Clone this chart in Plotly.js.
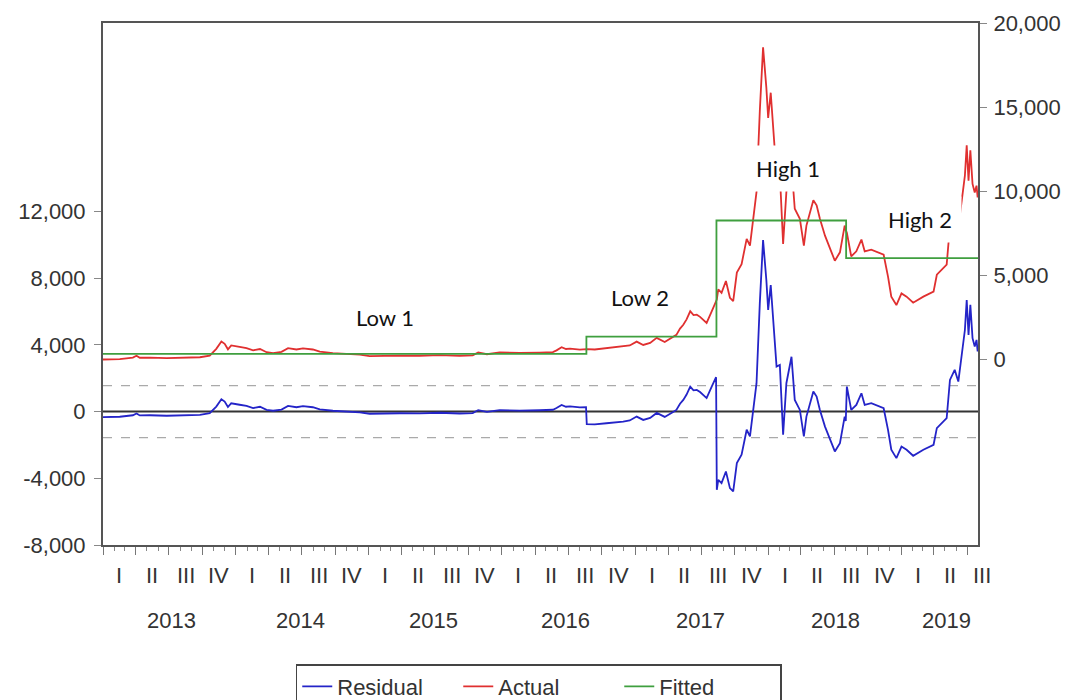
<!DOCTYPE html>
<html>
<head>
<meta charset="utf-8">
<script src="https://cdn.plot.ly/plotly-3.0.1.min.js"></script>
<style>
  html, body { margin: 0; padding: 0; background: #ffffff; }
  #chart { width: 1074px; height: 700px; }
</style>
</head>
<body>
<div id="chart"></div>
<script>
// ---------------- data ----------------
const dates = [
  '2013-01-01','2013-02-16','2013-03-24','2013-04-03','2013-04-12','2013-05-10','2013-06-25','2013-08-19','2013-09-24','2013-10-21',
  '2013-11-08','2013-11-22','2013-12-01','2013-12-10','2013-12-19','2014-01-11','2014-01-30','2014-02-17','2014-03-08','2014-03-26',
  '2014-04-13','2014-05-06','2014-05-24','2014-06-16','2014-07-04','2014-07-31','2014-08-19','2014-09-24','2014-10-31','2014-12-07',
  '2015-01-03','2015-02-09','2015-03-26','2015-05-20','2015-07-14','2015-09-07','2015-10-13','2015-10-28','2015-11-21','2015-12-26',
  '2016-02-19','2016-04-14','2016-05-20','2016-05-30','2016-06-13','2016-06-25','2016-07-06','2016-08-02','2016-08-19','2016-08-21',
  '2016-09-12','2016-10-14','2016-11-06','2016-11-29','2016-12-17','2017-01-05','2017-01-23','2017-02-11','2017-03-01','2017-03-23',
  '2017-04-15','2017-04-24','2017-05-04','2017-05-13','2017-05-22','2017-06-01','2017-06-10','2017-06-19','2017-06-28','2017-07-16',
  '2017-07-30','2017-08-11','2017-08-13','2017-08-17','2017-08-26','2017-09-07','2017-09-18','2017-09-27','2017-10-07','2017-10-20',
  '2017-11-03','2017-11-12','2017-11-21','2017-11-30','2017-12-09','2017-12-18','2017-12-27','2018-01-01','2018-01-08','2018-01-15',
  '2018-01-24','2018-02-02','2018-02-11','2018-02-20','2018-03-06','2018-03-15','2018-03-29','2018-04-09','2018-04-16','2018-05-05',
  '2018-05-14','2018-05-23','2018-06-06','2018-06-24','2018-07-03','2018-07-17','2018-07-30','2018-08-02','2018-08-05','2018-08-17',
  '2018-08-31','2018-09-14','2018-09-23','2018-10-11','2018-11-04','2018-11-14','2018-11-26','2018-12-05','2018-12-19','2019-01-02',
  '2019-01-16','2019-02-03','2019-03-03','2019-03-31','2019-04-09','2019-04-23','2019-05-06','2019-05-15','2019-05-28','2019-06-07',
  '2019-06-16','2019-06-25','2019-06-30','2019-07-05','2019-07-10','2019-07-16','2019-07-22','2019-07-27','2019-07-30'
];

const actual = [
  15,40,130,240,120,130,100,140,150,250,
  650,1090,950,620,850,760,690,560,640,450,
  400,470,690,610,680,610,480,400,360,300,
  220,250,250,240,280,235,260,440,330,440,
  410,430,460,560,750,640,660,600,620,630,
  610,680,720,780,850,1080,880,1000,1300,1060,
  1350,1480,1850,2080,2400,2880,2650,2680,2550,2190,
  2880,3440,3580,4180,3980,4680,3680,3480,5180,5680,
  7180,6780,8370,9970,14760,18550,16160,14360,15860,13760,
  10970,11070,6880,9970,11560,8970,8370,6780,7970,9470,
  9170,8370,7370,6380,5880,6380,7970,7700,7540,6140,
  6440,7140,6440,6540,6340,6240,4940,3750,3250,3940,
  3750,3390,3750,4050,5050,5350,5650,7940,8540,7840,
  9330,10930,12730,10640,12440,10440,9940,10340,9640
];

const residual = [
  -335,-310,-220,-110,-230,-220,-250,-210,-200,-100,
  300,740,600,270,500,410,340,210,290,100,
  50,120,340,260,330,260,130,50,10,-50,
  -130,-100,-100,-110,-70,-115,-90,90,-20,90,
  60,80,110,210,400,290,310,250,270,-750,
  -770,-700,-660,-600,-530,-300,-500,-380,-80,-320,
  -30,100,470,700,1020,1500,1270,1300,1170,810,
  1500,2060,-4690,-4090,-4290,-3590,-4590,-4790,-3090,-2590,
  -1090,-1490,100,1700,6490,10280,7890,6090,7590,5490,
  2700,2800,-1390,1700,3290,700,100,-1490,-300,1200,
  900,100,-900,-1890,-2390,-1890,-300,-570,1500,100,
  400,1100,400,500,300,200,-1100,-2290,-2790,-2100,
  -2290,-2650,-2290,-1990,-990,-690,-390,1900,2500,1800,
  3290,4890,6690,4600,6400,4400,3900,4300,3600
];

// fitted: regime means (step function)
const fittedDates  = ['2013-01-01','2016-08-20','2017-08-12','2018-08-03','2019-07-31'];
const fittedValues = [350, 1380, 8270, 6040, 6040];

// residual standard-error band
const seBand = 1560;

// axis tick labels
const leftTickVals  = [-8000, -4000, 0, 4000, 8000, 12000];
const leftTickText  = ['-8,000', '-4,000', '0', '4,000', '8,000', '12,000'];
const rightTickVals = [0, 5000, 10000, 15000, 20000];
const rightTickText = ['0', '5,000', '10,000', '15,000', '20,000'];
const quarterNames  = ['I', 'II', 'III', 'IV'];
const years         = ['2013', '2014', '2015', '2016', '2017', '2018', '2019'];
const yearLabelDates = ['2013-07-08','2014-06-28','2015-06-28','2016-06-24','2017-06-30','2018-07-04','2019-05-06'];

// build quarter tick positions
const quarterStarts = [], quarterMids = [], quarterText = [];
const qStartMonth = ['01','04','07','10'];
const qMidMonth   = ['02-15','05-16','08-16','11-15'];
for (let y = 2013; y <= 2019; y++) {
  for (let q = 0; q < 4; q++) {
    if (y === 2019 && q > 2) break;
    quarterStarts.push(y + '-' + qStartMonth[q] + '-01');
    quarterText.push(quarterNames[q]);
    if (y === 2019 && q === 2) quarterMids.push('2019-07-31');
    else quarterMids.push(y + '-' + qMidMonth[q]);
  }
}

// ---------------- chart ----------------
const xRange = ['2013-01-01', '2019-07-31'];
const axisFont = { family: 'Liberation Sans, Arial, sans-serif', size: 22, color: '#333' };
const labelFont = { family: 'Lato, sans-serif', size: 22, color: '#111' };

const traces = [
  { x: dates, y: residual, name: 'Residual', type: 'scatter', mode: 'lines',
    line: { color: '#2424c8', width: 1.8 }, xaxis: 'x', yaxis: 'y' },
  { x: dates, y: actual, name: 'Actual', type: 'scatter', mode: 'lines',
    line: { color: '#e03030', width: 1.8 }, xaxis: 'x', yaxis: 'y2' },
  { x: fittedDates, y: fittedValues, name: 'Fitted', type: 'scatter', mode: 'lines',
    line: { color: '#3f9f3f', width: 1.8, shape: 'hv' }, xaxis: 'x', yaxis: 'y2' }
];

const annotations = [
  { text: 'Low 1',  x: '2015-02-14', y: 2490, xref: 'x', yref: 'y2', showarrow: false,
    font: labelFont, borderpad: 9 },
  { text: 'Low 2',  x: '2017-01-14', y: 3680, xref: 'x', yref: 'y2', showarrow: false,
    font: labelFont, borderpad: 9 },
  { text: 'High 1', x: '2018-02-24', y: 11340, xref: 'x', yref: 'y2', showarrow: false,
    font: labelFont, bgcolor: '#ffffff', borderpad: 9 },
  { text: 'High 2', x: '2019-02-21', y: 8310, xref: 'x', yref: 'y2', showarrow: false,
    font: labelFont, bgcolor: '#ffffff', borderpad: 9 }
];
// quarter and year labels under the date axis
quarterMids.forEach((d, i) => {
  annotations.push({ text: quarterText[i], x: d, xref: 'x', y: -0.0575, yref: 'paper',
    yanchor: 'middle', xanchor: 'center', showarrow: false, font: axisFont,
    xshift: (i === quarterMids.length - 1) ? 4 : 0 });
});
yearLabelDates.forEach((d, i) => {
  annotations.push({ text: years[i], x: d, xref: 'x', y: -0.1437, yref: 'paper',
    yanchor: 'middle', xanchor: 'center', showarrow: false, font: axisFont });
});

const layout = {
  width: 1074, height: 700,
  margin: { l: 103, r: 96, t: 23, b: 155, autoexpand: false },
  paper_bgcolor: '#ffffff', plot_bgcolor: '#ffffff',
  showlegend: true,
  legend: {
    orientation: 'h', x: 0.498, xanchor: 'center', y: -0.228, yanchor: 'top',
    font: axisFont, bordercolor: '#444', borderwidth: 1.5, bgcolor: '#ffffff',
    entrywidth: 116, entrywidthmode: 'pixels'
  },
  xaxis: {
    type: 'date', range: xRange, showline: true, linecolor: '#555', linewidth: 2, mirror: true,
    showgrid: false, zeroline: false, ticks: 'outside', tickmode: 'array', tickvals: quarterStarts,
    ticklen: 8, tickcolor: '#777', tickwidth: 1, showticklabels: false,
    minor: { tickmode: 'linear', tick0: '2013-01-01', dtick: 'M1', ticks: 'outside', ticklen: 4, tickcolor: '#888', showgrid: false }
  },
  yaxis: {
    range: [-8000, 23300], showline: true, linecolor: '#555', linewidth: 2,
    showgrid: false, zeroline: false, ticks: 'outside', ticklen: 7, tickcolor: '#888',
    tickmode: 'array', tickvals: leftTickVals, ticktext: leftTickText, tickfont: axisFont,
    ticklabelstandoff: 4
  },
  yaxis2: {
    range: [-11000, 20000], overlaying: 'y', side: 'right', anchor: 'x',
    showline: true, linecolor: '#555', linewidth: 2,
    showgrid: false, zeroline: false, ticks: 'outside', ticklen: 7, tickcolor: '#888',
    tickmode: 'array', tickvals: rightTickVals, ticktext: rightTickText, tickfont: axisFont,
    ticklabelstandoff: 2
  },
  shapes: [
    { type: 'line', xref: 'paper', x0: 0, x1: 1, yref: 'y', y0: 0, y1: 0,
      line: { color: '#333', width: 2 }, layer: 'below' },
    { type: 'line', xref: 'paper', x0: 0, x1: 1, yref: 'y', y0: seBand, y1: seBand,
      line: { color: '#aaa', width: 1.2, dash: 'dash' }, layer: 'below' },
    { type: 'line', xref: 'paper', x0: 0, x1: 1, yref: 'y', y0: -seBand, y1: -seBand,
      line: { color: '#aaa', width: 1.2, dash: 'dash' }, layer: 'below' }
  ],
  annotations: annotations
};

Plotly.newPlot('chart', traces, layout, { staticPlot: true, displayModeBar: false });
</script>
</body>
</html>
